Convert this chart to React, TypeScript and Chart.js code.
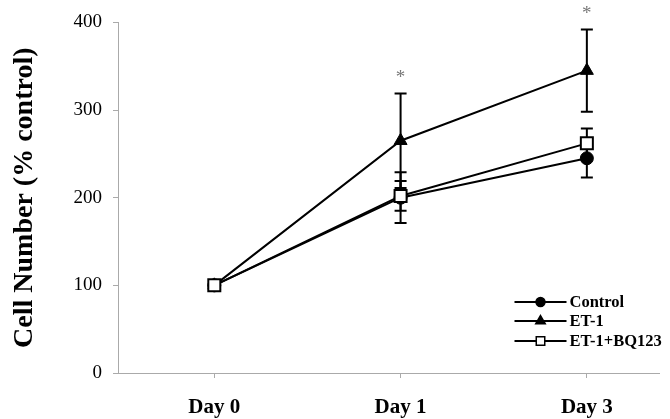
import React, { useEffect, useRef } from "react";
import { Chart, registerables } from "chart.js";
import { drawPoint } from "chart.js/helpers";

Chart.register(...registerables);

const categories = ["Day 0", "Day 1", "Day 3"];
const controlMean = [100, 200, 245];
const controlErr = [0, 29, 22];
const et1Mean = [100, 265, 345];
const et1Err = [0, 54, 47];
const bqMean = [100, 202, 262];
const bqErr = [0, 17, 17];
const sigMarks = ["", "*", "*"];
const yTicks = [0, 100, 200, 300, 400];

const SERIF = '"Liberation Serif", "Times New Roman", serif';

const errs = [controlErr, et1Err, bqErr];

const errorBarPlugin = {
  id: "errorBars",
  beforeDatasetsDraw(chart: any) {
    const { ctx, scales } = chart;
    const x = scales.x;
    const y = scales.y;
    ctx.save();
    ctx.strokeStyle = "#000";
    ctx.lineWidth = 2;
    chart.data.datasets.forEach((ds: any, di: number) => {
      ds.data.forEach((pt: any, i: number) => {
        const e = errs[di][i];
        if (!e) return;
        const px = x.getPixelForValue(pt.x);
        const top = y.getPixelForValue(pt.y + e);
        const bot = y.getPixelForValue(pt.y - e);
        ctx.beginPath();
        ctx.moveTo(px, top);
        ctx.lineTo(px, bot);
        ctx.moveTo(px - 6, top);
        ctx.lineTo(px + 6, top);
        ctx.moveTo(px - 6, bot);
        ctx.lineTo(px + 6, bot);
        ctx.stroke();
      });
    });
    ctx.restore();
  },
  afterDatasetsDraw(chart: any) {
    const { ctx, scales } = chart;
    ctx.save();
    ctx.fillStyle = "#777";
    ctx.font = `19px ${SERIF}`;
    ctx.textAlign = "center";
    ctx.textBaseline = "middle";
    sigMarks.forEach((m, i) => {
      if (!m) return;
      const px = scales.x.getPixelForValue(i);
      const py = scales.y.getPixelForValue(et1Mean[i] + et1Err[i]) - 18;
      ctx.fillText(m, px, py + 3);
    });
    ctx.restore();
  },
};

const legendPlugin = {
  id: "customLegend",
  afterDraw(chart: any) {
    const { ctx, chartArea } = chart;
    const x0 = chartArea.right - 145;
    const rowsY = [chartArea.bottom - 71, chartArea.bottom - 52, chartArea.bottom - 32];
    const markerR = [4.5, 5.5, 6];
    ctx.save();
    chart.data.datasets.forEach((ds: any, i: number) => {
      const yy = rowsY[i];
      ctx.strokeStyle = "#000";
      ctx.lineWidth = 2;
      ctx.beginPath();
      ctx.moveTo(x0, yy);
      ctx.lineTo(x0 + 52, yy);
      ctx.stroke();
      ctx.fillStyle = ds.pointBackgroundColor;
      ctx.strokeStyle = "#000";
      ctx.lineWidth = 1.5;
      drawPoint(ctx, { pointStyle: ds.pointStyle, radius: markerR[i], rotation: 0, borderWidth: 1.5 }, x0 + 26, yy);
      ctx.fillStyle = "#000";
      ctx.font = `bold 16.5px ${SERIF}`;
      ctx.textAlign = "left";
      ctx.textBaseline = "middle";
      ctx.fillText(ds.label, x0 + 55, yy + 1);
    });
    ctx.restore();
  },
};

export default function App() {
  const ref = useRef<HTMLCanvasElement>(null);
  useEffect(() => {
    document.body.style.margin = "0";
    const toPts = (arr: number[]) => arr.map((v, i) => ({ x: i, y: v }));
    const chart = new Chart(ref.current!, {
      type: "line",
      data: {
        datasets: [
          {
            label: "Control",
            data: toPts(controlMean),
            borderColor: "#000",
            borderWidth: 2,
            pointStyle: "circle",
            pointRadius: 6.5,
            pointBackgroundColor: "#000",
            pointBorderColor: "#000",
            pointBorderWidth: 1,
            order: 3,
          },
          {
            label: "ET-1",
            data: toPts(et1Mean),
            borderColor: "#000",
            borderWidth: 2,
            pointStyle: "triangle",
            pointRadius: 7.5,
            pointBackgroundColor: "#000",
            pointBorderColor: "#000",
            pointBorderWidth: 1,
            order: 2,
          },
          {
            label: "ET-1+BQ123",
            data: toPts(bqMean),
            borderColor: "#000",
            borderWidth: 2,
            pointStyle: "rect",
            pointRadius: 8.5,
            pointBackgroundColor: "#fff",
            pointBorderColor: "#000",
            pointBorderWidth: 2,
            order: 1,
          },
        ],
      },
      options: {
        animation: false,
        responsive: false,
        maintainAspectRatio: false,
        layout: { padding: { top: 22, right: 7, left: 0, bottom: 0 } },
        plugins: { legend: { display: false }, tooltip: { enabled: false } },
        elements: { line: { tension: 0 } },
        scales: {
          x: {
            type: "linear",
            min: -0.517,
            max: 2.39,
            afterBuildTicks: (s: any) => {
              s.ticks = categories.map((_, i) => ({ value: i }));
            },
            afterFit: (s: any) => {
              s.height = 46;
            },
            ticks: {
              callback: (v: any) => categories[v as number] ?? "",
              color: "#000",
              font: { family: SERIF, size: 21, weight: "bold" },
              padding: 17,
              maxRotation: 0,
              autoSkip: false,
            },
            grid: { drawOnChartArea: false, drawTicks: true, tickLength: 5, color: "#aaa" },
            border: { color: "#aaa", width: 1 },
          },
          y: {
            min: 0,
            max: 400,
            afterBuildTicks: (s: any) => {
              s.ticks = yTicks.map((v) => ({ value: v }));
            },
            afterFit: (s: any) => {
              s.width = 118;
            },
            ticks: {
              color: "#000",
              font: { family: SERIF, size: 19 },
              padding: 11,
            },
            grid: { drawOnChartArea: false, drawTicks: true, tickLength: 5, color: "#aaa" },
            border: { color: "#aaa", width: 1 },
            title: {
              display: true,
              text: "Cell Number (% control)",
              color: "#000",
              font: { family: SERIF, size: 28, weight: "bold" },
              padding: { top: 8, bottom: 0 },
            },
          },
        },
      },
      plugins: [errorBarPlugin, legendPlugin],
    });
    return () => chart.destroy();
  }, []);
  return <canvas ref={ref} width={670} height={419} style={{ display: "block" }} />;
}
